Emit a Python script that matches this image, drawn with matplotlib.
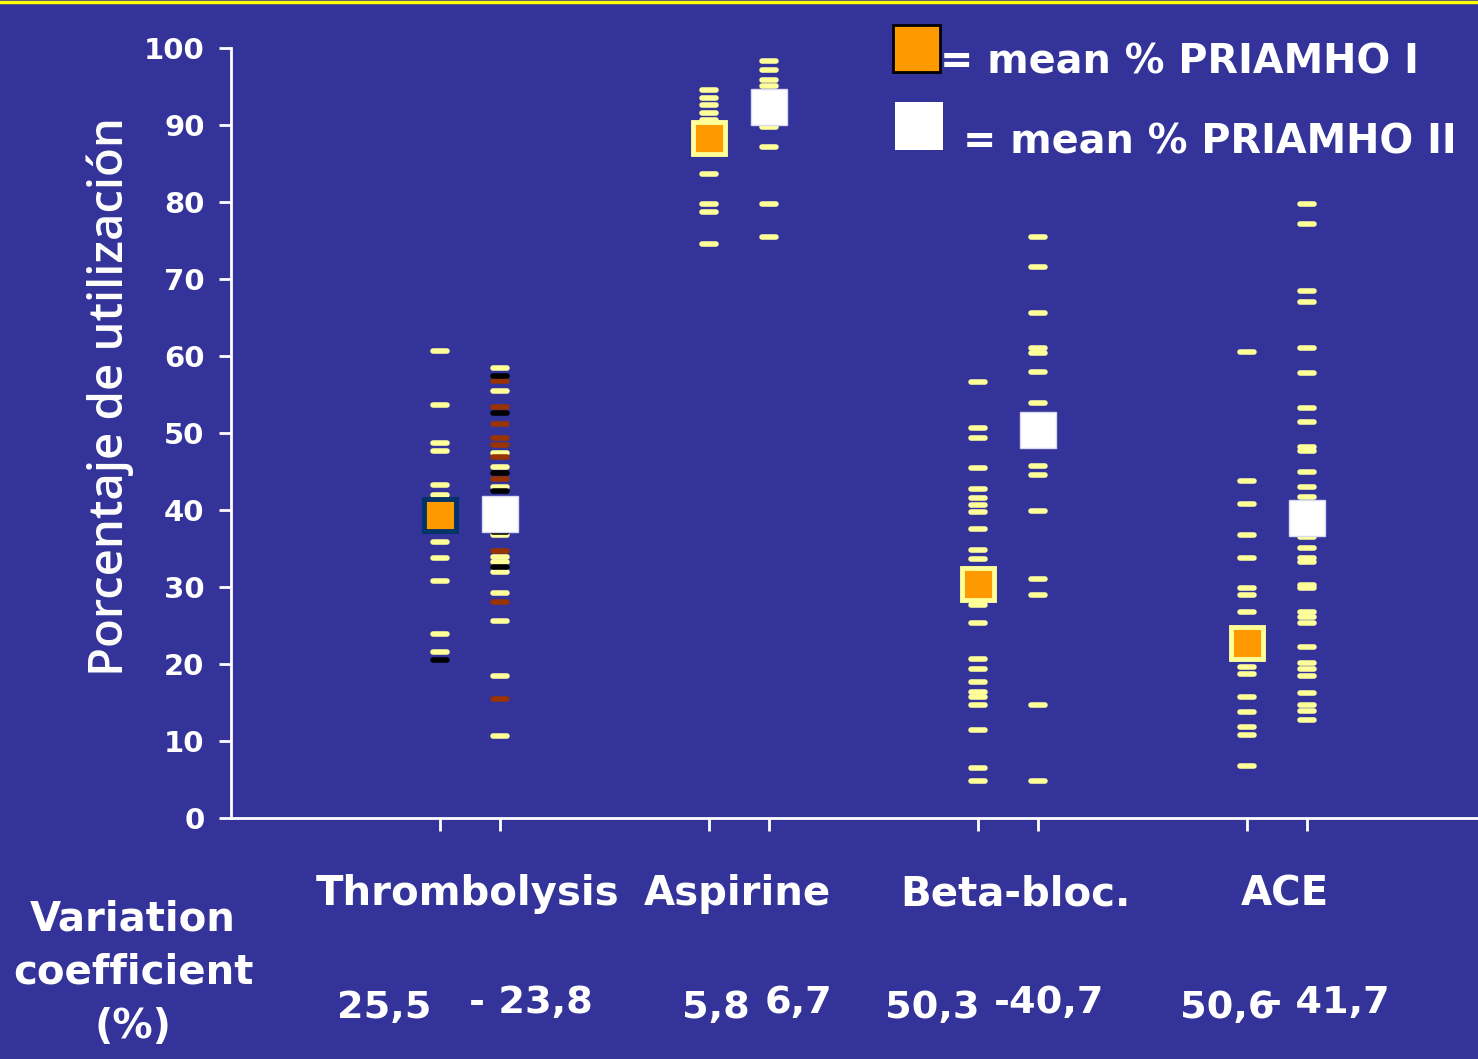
import matplotlib.pyplot as plt
from matplotlib.markers import MarkerStyle
from matplotlib.lines import Line2D

# categories and summary numbers
groups = ['Thrombolysis', 'Aspirine', 'Beta-bloc.', 'ACE']
cv_1 = ['25,5', '5,8', '50,3', '50,6']
cv_2 = ['- 23,8', '6,7', '-40,7', '- 41,7']

mean_1 = [39.3, 88.3, 30.4, 22.7]   # PRIAMHO I
mean_2 = [39.5, 92.3, 50.4, 38.9]   # PRIAMHO II

# hospital values, PRIAMHO I (yellow dashes)
p1_yellow = [
    [60.6, 53.6, 48.7, 47.7, 43.3, 41.9, 35.8, 33.7, 30.8, 23.9, 21.6],
    [94.5, 93.5, 92.6, 91.6, 90.6, 83.6, 79.7, 78.7, 74.5],
    [56.6, 50.7, 49.4, 45.5, 42.7, 41.5, 40.6, 39.8, 37.5, 34.8, 33.6,
     27.6, 25.3, 20.6, 19.4, 17.6, 16.4, 15.7, 14.7, 11.4, 6.5, 4.8],
    [60.5, 43.8, 40.8, 36.8, 33.8, 29.9, 28.9, 26.8, 21.2, 19.6, 18.7,
     15.7, 13.7, 11.8, 10.8, 6.8],
]
p1_black = [[20.5], [], [], []]

# hospital values, PRIAMHO II
p2_yellow = [
    [58.4, 55.4, 47.4, 45.6, 43.0, 36.8, 33.9, 33.3, 31.9, 29.2, 25.6,
     18.4, 10.7],
    [98.3, 97.2, 95.9, 95.0, 89.8, 87.1, 79.7, 75.5],
    [75.5, 71.5, 65.6, 61.1, 60.4, 57.9, 53.9, 45.7, 44.5, 39.9, 31.1,
     28.9, 14.7, 4.8],
    [79.8, 77.2, 68.5, 67.0, 61.0, 57.8, 53.3, 51.4, 48.2, 47.7, 44.9,
     43.0, 41.7, 36.5, 35.0, 33.8, 33.2, 30.3, 29.9, 26.8, 26.1, 25.3,
     22.2, 20.1, 19.4, 18.4, 16.2, 14.7, 13.9, 12.7],
]
p2_black = [[57.4, 52.6, 44.8, 42.4, 37.2, 32.6], [], [], []]
p2_brown = [[56.7, 53.4, 51.2, 49.3, 48.4, 46.9, 44.0, 34.7, 28.1, 15.4],
            [], [], []]

BG = '#333399'
DASH_Y = '#ffff99'
ORANGE = '#ff9900'
W, H = 1478, 1059

fig = plt.figure(figsize=(W / 100, H / 100), dpi=100)
fig.patch.set_facecolor(BG)
ax = fig.add_axes([0.1563, 0.2276, 0.8437, 0.7271])
ax.set_facecolor(BG)

off = 0.112
dash = MarkerStyle('_', capstyle='round')


def dashes(x, vals, color):
    ax.plot([x] * len(vals), vals, ls='none', marker=dash, ms=9.5, mew=4,
            color=color, zorder=3)


for i in range(len(groups)):
    x1, x2 = i - off, i + off
    dashes(x1, p1_yellow[i], DASH_Y)
    dashes(x1, p1_black[i], 'black')
    dashes(x2, p2_yellow[i], DASH_Y)
    dashes(x2, p2_brown[i], '#993300')
    dashes(x2, p2_black[i], 'black')
    edge = '#003366' if i == 0 else DASH_Y
    ax.plot(x1, mean_1[i], ls='none', marker='s', ms=23, mew=3.5,
            mfc=ORANGE, mec=edge, zorder=5)
    ax.plot(x2, mean_2[i], ls='none', marker='s', ms=26.5, mew=1,
            mfc='white', mec='#d8d8f0', zorder=5)

ax.set_xlim(-0.888, 3.748)
ax.set_ylim(0, 100)
ax.set_xticks([i + s for i in range(4) for s in (-off, off)])
ax.set_xticklabels([])
ax.set_yticks(range(0, 101, 10))
ax.set_yticklabels([str(v) for v in range(0, 101, 10)],
                   fontsize=21, fontweight='bold', color='white')
ax.tick_params(colors='white', width=2, length=9, pad=10)
for s in ('top', 'right'):
    ax.spines[s].set_visible(False)
for s in ('left', 'bottom'):
    ax.spines[s].set_color('white')
    ax.spines[s].set_linewidth(2)

fig.text(110 / W, 1 - 397 / H, 'Porcentaje de utilización', rotation=90,
         ha='center', va='center', fontsize=34, color='white',
         family='Open Sans', fontweight='semibold')

# group names and variation coefficients (pixel centres from the slide)
name_x = [468, 737, 1015, 1285]
cv1_x = [384, 716, 932, 1227]
cv2_x = [531, 798, 1049, 1328]
for i, g in enumerate(groups):
    fig.text(name_x[i] / W, 1 - 894 / H, g, ha='center', va='center',
             fontsize=29, color='white', fontweight='bold')
    fig.text(cv1_x[i] / W, 1 - 1008 / H, cv_1[i], ha='center', va='center',
             fontsize=27.5, color='white', fontweight='bold')
    fig.text(cv2_x[i] / W, 1 - 1003 / H, cv_2[i], ha='center', va='center',
             fontsize=27.5, color='white', fontweight='bold')

fig.text(133 / W, 1 - 973 / H, 'Variation\ncoefficient\n(%)',
         ha='center', va='center', fontsize=29, color='white',
         fontweight='bold', linespacing=1.45)

# legend drawn as in the slide
fig.patches.append(plt.Rectangle((893 / W, 1 - 72 / H), 47 / W, 47 / H,
                                 transform=fig.transFigure,
                                 fc=ORANGE, ec='black', lw=2))
fig.patches.append(plt.Rectangle((895 / W, 1 - 150 / H), 48 / W, 48 / H,
                                 transform=fig.transFigure,
                                 fc='white', ec='none'))
fig.text(940 / W, 1 - 62 / H, '= mean % PRIAMHO I', ha='left',
         va='center', fontsize=28.6, color='white', fontweight='bold')
fig.text(963 / W, 1 - 143 / H, '= mean % PRIAMHO II', ha='left',
         va='center', fontsize=28.6, color='white', fontweight='bold')

fig.add_artist(Line2D([0, 1], [0.9985, 0.9985], transform=fig.transFigure,
                      color='#ffff00', lw=2.5))

fig.savefig('out.png', dpi=100, facecolor=BG)
